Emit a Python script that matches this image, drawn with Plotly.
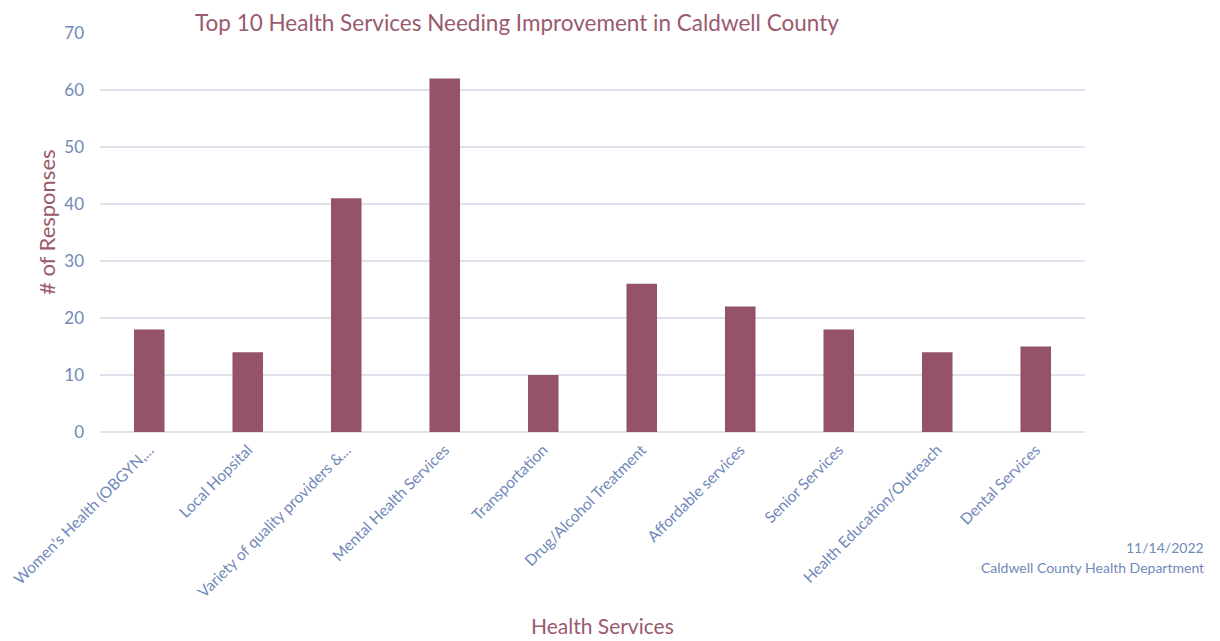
import plotly.graph_objects as go

categories = [
    "Women's Health (OBGYN,...",
    "Local Hopsital",
    "Variety of quality providers &...",
    "Mental Health Services",
    "Transportation",
    "Drug/Alcohol Treatment",
    "Affordable services",
    "Senior Services",
    "Health Education/Outreach",
    "Dental Services",
]
responses = [18, 14, 41, 62, 10, 26, 22, 18, 14, 15]
y_ticks = [0, 10, 20, 30, 40, 50, 60, 70]

title_text = "Top 10 Health Services Needing Improvement in Caldwell County"
x_title = "Health Services"
y_title = "# of Responses"
date_text = "11/14/2022"
source_text = "Caldwell County Health Department"

BAR = "#955369"
MAROON = "#9a5a6e"
BLUE = "#7189b8"
GRID = "#dde2ec"
FONT = "Lato, 'Open Sans', sans-serif"

# page body has an 8px margin; figure drawn from (8, 8)
OFF = 8
W, H = 1212, 633
L, T = 100 - OFF, 33 - OFF
pw, ph = 985, 399
R = W - L - pw
B = H - T - ph


def px(x):
    return (x - OFF - L) / pw


def py(y):
    return (H - B - (y - OFF)) / ph


fig = go.Figure(
    go.Bar(x=categories, y=responses, marker=dict(color=BAR, line=dict(width=0)))
)

annotations = [
    dict(text=title_text, x=px(517), y=py(8.2), xref="paper", yref="paper",
         xanchor="center", yanchor="top", showarrow=False, borderpad=0,
         font=dict(size=22.5, color=MAROON, family=FONT)),
    dict(text=x_title, x=px(602), y=py(625), xref="paper", yref="paper",
         xanchor="center", yanchor="middle", showarrow=False,
         font=dict(size=21, color=MAROON, family=FONT)),
    dict(text=y_title, x=px(46), y=py(222), xref="paper", yref="paper",
         xanchor="center", yanchor="middle", showarrow=False, textangle=-90,
         font=dict(size=22, color=MAROON, family=FONT)),
    dict(text=date_text, x=px(1206), y=py(547), xref="paper", yref="paper",
         xanchor="right", yanchor="middle", showarrow=False,
         font=dict(size=14, color=BLUE, family=FONT)),
    dict(text=source_text, x=px(1206), y=py(567), xref="paper", yref="paper",
         xanchor="right", yanchor="middle", showarrow=False,
         font=dict(size=14, color=BLUE, family=FONT)),
]

fig.update_layout(
    width=W,
    height=H,
    margin=dict(l=L, r=R, t=T, b=B, autoexpand=False),
    paper_bgcolor="white",
    plot_bgcolor="white",
    bargap=0.69,
    showlegend=False,
    font=dict(family=FONT, color=BLUE, size=15),
    xaxis=dict(
        tickangle=-45,
        tickfont=dict(size=15.5, color=BLUE),
        showgrid=False,
        showline=False,
        ticks="",
        automargin=False,
        ticklabelstandoff=5,
    ),
    yaxis=dict(
        range=[0, 70],
        tickvals=y_ticks,
        tickfont=dict(size=17, color=BLUE),
        gridcolor=GRID,
        gridwidth=1.5,
        zeroline=True,
        zerolinecolor=GRID,
        zerolinewidth=1.5,
        showline=False,
        ticks="",
        ticklabelstandoff=15,
        automargin=False,
    ),
    annotations=annotations,
)

fig.write_html("out.html")
